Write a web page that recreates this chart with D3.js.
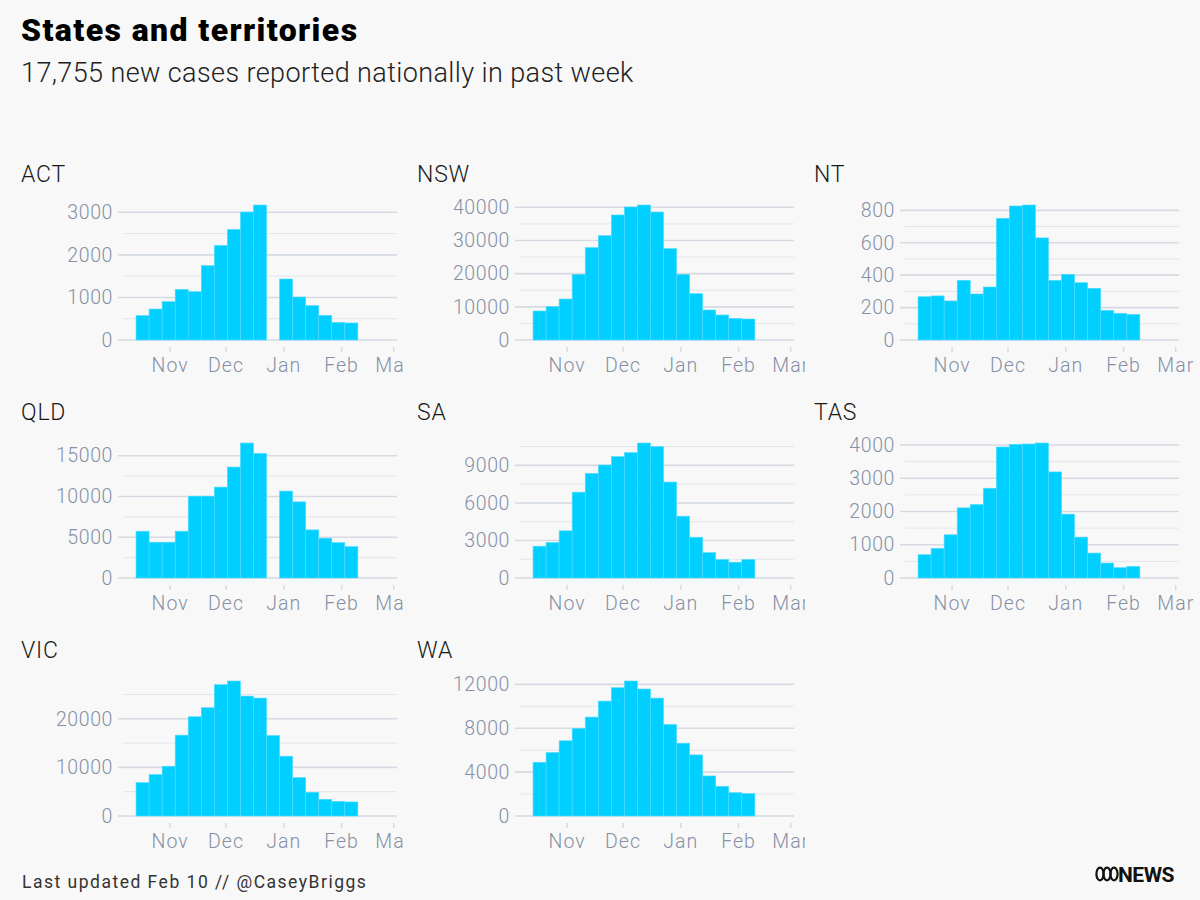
<!DOCTYPE html>
<html>
<head>
<meta charset="utf-8">
<script src="https://cdn.jsdelivr.net/npm/d3@7"></script>
<style>
  body { margin: 0; background: #f8f8f8; }
  svg { display: block; font-family: Roboto, sans-serif; }
</style>
</head>
<body>
<svg id="chart" width="1200" height="900"></svg>
<script>
// --- data (weekly new cases) ---
const states = ["ACT", "NSW", "NT", "QLD", "SA", "TAS", "VIC", "WA"];

// start of each weekly bin (bin is 7 days long)
const weekStarts = ["2021-10-14", "2021-10-21", "2021-10-28", "2021-11-04", "2021-11-11",
  "2021-11-18", "2021-11-25", "2021-12-02", "2021-12-09", "2021-12-16", "2021-12-23",
  "2021-12-30", "2022-01-06", "2022-01-13", "2022-01-20", "2022-01-27", "2022-02-03"];

const actCases = [572, 728, 900, 1190, 1135, 1746, 2224, 2600, 3007, 3172, null, 1433, 1010, 807, 580, 415, 400];
const nswCases = [8740, 10050, 12360, 19800, 27840, 31460, 37690, 40100, 40700, 38590, 27540, 19800, 13970, 9050, 7540, 6530, 6330];
const ntCases = [267, 272, 241, 368, 284, 327, 751, 827, 833, 630, 368, 405, 354, 319, 183, 165, 158];
const qldCases = [5740, 4390, 4390, 5740, 10040, 10040, 11150, 13610, 16560, 15290, null, 10660, 9340, 5900, 4880, 4340, 3850];
const saCases = [2540, 2830, 3770, 6860, 8360, 9030, 9700, 10020, 10790, 10500, 7670, 4940, 3260, 2030, 1470, 1260, 1470];
const tasCases = [700, 890, 1300, 2110, 2210, 2700, 3940, 4020, 4030, 4060, 3190, 1920, 1230, 750, 450, 310, 350];
const vicCases = [6870, 8520, 10240, 16630, 20410, 22270, 27010, 27770, 24670, 24260, 16560, 12300, 7900, 4880, 3440, 3020, 2890];
const waCases = [4900, 5790, 6860, 7980, 9020, 10480, 11700, 12310, 11580, 10750, 8350, 6640, 5570, 3650, 2710, 2130, 2040];

// labelled y ticks per panel
const actTicks = [0, 1000, 2000, 3000];
const nswTicks = [0, 10000, 20000, 30000, 40000];
const ntTicks = [0, 200, 400, 600, 800];
const qldTicks = [0, 5000, 10000, 15000];
const saTicks = [0, 3000, 6000, 9000];
const tasTicks = [0, 1000, 2000, 3000, 4000];
const vicTicks = [0, 10000, 20000];
const waTicks = [0, 4000, 8000, 12000];

const monthTicks = ["2021-11-01", "2021-12-01", "2022-01-01", "2022-02-01", "2022-03-01"];
const xExtent = ["2021-10-07", "2022-03-03"];

const seriesByState = { ACT: actCases, NSW: nswCases, NT: ntCases, QLD: qldCases, SA: saCases, TAS: tasCases, VIC: vicCases, WA: waCases };
const ticksByState = { ACT: actTicks, NSW: nswTicks, NT: ntTicks, QLD: qldTicks, SA: saTicks, TAS: tasTicks, VIC: vicTicks, WA: waTicks };

// --- layout ---
const parse = d3.timeParse("%Y-%m-%d");
const plotW = 274, plotH = 135;
const colLeft = [123, 520, 905];
const colTitleX = [21, 417, 814];
const colClipRight = [406, 805, 1200];
const rowBase = [340, 578, 816];

const svg = d3.select("#chart");
svg.append("rect").attr("width", 1200).attr("height", 900).attr("fill", "#f8f8f8");

// header
svg.append("text")
  .attr("x", 21).attr("y", 41)
  .style("font-size", "32px").style("font-weight", 900)
  .style("letter-spacing", "1.4px")
  .style("fill", "#000")
  .text("States and territories");

svg.append("text")
  .attr("x", 21).attr("y", 82)
  .style("font-size", "27px").style("font-weight", 300)
  .style("letter-spacing", "0.4px")
  .style("fill", "#222")
  .text("17,755 new cases reported nationally in past week");

const defs = svg.append("defs");

states.forEach((st, i) => {
  const col = i % 3, row = Math.floor(i / 3);
  const x0 = colLeft[col];
  const base = rowBase[row];
  const values = seriesByState[st];
  const ticks = ticksByState[st];

  const bins = weekStarts.map((d, k) => ({ start: parse(d), end: d3.timeDay.offset(parse(d), 7), value: values[k] }))
    .filter(d => d.value != null);

  const x = d3.scaleTime()
    .domain(xExtent.map(parse))
    .range([x0, x0 + plotW]);

  const y = d3.scaleLinear()
    .domain([0, d3.max(values)])
    .range([base, base - plotH]);

  defs.append("clipPath").attr("id", "clip-" + st)
    .append("rect")
    .attr("x", colTitleX[col] - 10).attr("y", base - 200)
    .attr("width", colClipRight[col] - colTitleX[col] + 10).attr("height", 240);

  const g = svg.append("g").attr("clip-path", `url(#clip-${st})`);

  // panel title
  g.append("text")
    .attr("x", colTitleX[col]).attr("y", base - 158)
    .style("font-size", "23px").style("font-weight", 300)
    .style("letter-spacing", "0.8px")
    .style("fill", "#1a1a1a")
    .text(st);

  // gridlines: minor halfway between labelled ticks
  const step = ticks[1] - ticks[0];
  const minor = d3.range(step / 2, d3.max(values), step);

  g.selectAll(".minor")
    .data(minor)
    .join("line")
    .attr("x1", x0).attr("x2", x0 + plotW)
    .attr("y1", d => y(d)).attr("y2", d => y(d))
    .style("stroke", "#e1e5ec").style("stroke-width", 1);

  g.selectAll(".major")
    .data(ticks)
    .join("line")
    .attr("x1", x0 - 5).attr("x2", x0 + plotW)
    .attr("y1", d => y(d)).attr("y2", d => y(d))
    .style("stroke", "#d5dae3").style("stroke-width", 1.6);

  // bars
  g.selectAll(".bar")
    .data(bins)
    .join("rect")
    .attr("x", d => x(d.start))
    .attr("y", d => y(d.value))
    .attr("width", d => x(d.end) - x(d.start))
    .attr("height", d => y(0) - y(d.value))
    .attr("fill", "#00cfff")
    .style("stroke", "#4fdcff")
    .style("stroke-width", 0.6);

  // y axis labels
  g.append("g")
    .attr("transform", `translate(${x0},0)`)
    .call(d3.axisLeft(y).tickValues(ticks).tickSize(0).tickPadding(10).tickFormat(d3.format("d")))
    .call(a => a.select(".domain").remove())
    .selectAll("text")
    .style("font-family", "Roboto, sans-serif")
    .style("font-size", "19.5px").style("font-weight", 300)
    .style("letter-spacing", "0.6px")
    .style("fill", "#8690a5");

  // x axis
  const xa = g.append("g")
    .attr("transform", `translate(0,${base + 7})`)
    .call(d3.axisBottom(x).tickValues(monthTicks.map(parse)).tickSize(5).tickPadding(6).tickFormat(d3.timeFormat("%b")));
  xa.select(".domain").remove();
  xa.selectAll("line").style("stroke", "#d5dae3").style("stroke-width", 1.5);
  xa.selectAll("text")
    .style("font-family", "Roboto, sans-serif")
    .style("font-size", "19.5px").style("font-weight", 300)
    .style("letter-spacing", "1px")
    .style("fill", "#8690a5");
});

// footer
svg.append("text")
  .attr("x", 22).attr("y", 888)
  .style("font-size", "17.5px").style("font-weight", 400)
  .style("letter-spacing", "1.5px")
  .style("fill", "#333")
  .text("Last updated Feb 10 // @CaseyBriggs");

// ABC NEWS mark
const logo = svg.append("g");
logo.selectAll("ellipse")
  .data([1100, 1107, 1114])
  .join("ellipse")
  .attr("cx", d => d).attr("cy", 874)
  .attr("rx", 3.6).attr("ry", 6.4)
  .style("fill", "none").style("stroke", "#111").style("stroke-width", 2.2);
logo.append("text")
  .attr("x", 1118).attr("y", 882)
  .style("font-size", "21px").style("font-weight", 700)
  .style("letter-spacing", "-0.5px")
  .style("fill", "#111")
  .text("NEWS");
</script>
</body>
</html>
